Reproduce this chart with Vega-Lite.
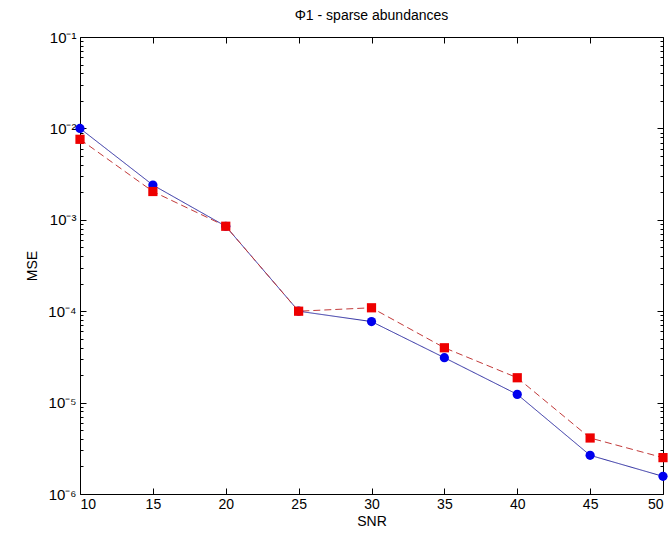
{
  "$schema": "https://vega.github.io/schema/vega-lite/v6.json",
  "width": 583,
  "height": 457,
  "autosize": "none",
  "padding": {"left": 80, "top": 37, "right": 7, "bottom": 47},
  "background": "white",
  "title": {"text": "Φ1 - sparse abundances", "font": "Liberation Sans", "fontSize": 14, "fontWeight": "normal", "color": "#000", "offset": 7},
  "config": {
    "view": {"stroke": "black", "strokeWidth": 1},
    "axis": {"zindex": 1, "domain": false, "ticks": true, "tickColor": "black", "tickWidth": 1, "tickOpacity": 1, "labelColor": "black", "titleColor": "black", "labelFont": "Liberation Sans", "titleFont": "Liberation Sans", "labelFontSize": 14, "titleFontSize": 14, "titleFontWeight": "normal", "grid": false, "offset": -6},
    "legend": {"zindex": 1}
  },
  "data": {"values": [
    {"snr": 10, "mse": 1.0e-2, "series": "BI-ICE"},
    {"snr": 15, "mse": 2.4e-3, "series": "BI-ICE"},
    {"snr": 20, "mse": 8.5e-4, "series": "BI-ICE"},
    {"snr": 25, "mse": 1.0e-4, "series": "BI-ICE"},
    {"snr": 30, "mse": 7.7e-5, "series": "BI-ICE"},
    {"snr": 35, "mse": 3.1e-5, "series": "BI-ICE"},
    {"snr": 40, "mse": 1.23e-5, "series": "BI-ICE"},
    {"snr": 45, "mse": 2.65e-6, "series": "BI-ICE"},
    {"snr": 50, "mse": 1.56e-6, "series": "BI-ICE"},
    {"snr": 10, "mse": 7.6e-3, "series": "BI-ICE-single"},
    {"snr": 15, "mse": 2.04e-3, "series": "BI-ICE-single"},
    {"snr": 20, "mse": 8.5e-4, "series": "BI-ICE-single"},
    {"snr": 25, "mse": 1.0e-4, "series": "BI-ICE-single"},
    {"snr": 30, "mse": 1.09e-4, "series": "BI-ICE-single"},
    {"snr": 35, "mse": 3.98e-5, "series": "BI-ICE-single"},
    {"snr": 40, "mse": 1.87e-5, "series": "BI-ICE-single"},
    {"snr": 45, "mse": 4.1e-6, "series": "BI-ICE-single"},
    {"snr": 50, "mse": 2.5e-6, "series": "BI-ICE-single"}
  ]},
  "layer": [
    {
      "layer": [
        {
          "mark": {"type": "line", "strokeWidth": 1},
          "encoding": {
            "x": {"field": "snr", "type": "quantitative", "scale": {"domain": [10, 50], "nice": false, "zero": false}, "axis": {"orient": "bottom", "title": "SNR", "values": [10, 15, 20, 25, 30, 35, 40, 45, 50], "tickSize": 6, "tickWidth": 1, "tickColor": "black", "labelPadding": 3, "titlePadding": 3}},
            "y": {"field": "mse", "type": "quantitative", "scale": {"type": "log", "domain": [1e-6, 1e-1], "nice": false}, "axis": {"orient": "left", "title": "MSE", "titlePadding": 8,
              "values": [1e-6,2e-6,3e-6,4e-6,5e-6,6e-6,7e-6,8e-6,9e-6,1e-5,2e-5,3e-5,4e-5,5e-5,6e-5,7e-5,8e-5,9e-5,1e-4,2e-4,3e-4,4e-4,5e-4,6e-4,7e-4,8e-4,9e-4,1e-3,2e-3,3e-3,4e-3,5e-3,6e-3,7e-3,8e-3,9e-3,1e-2,2e-2,3e-2,4e-2,5e-2,6e-2,7e-2,8e-2,9e-2,1e-1],
              "labelExpr": "abs(log(datum.value)/LN10 - round(log(datum.value)/LN10)) < 1e-6 ? '10' + ['⁻⁶','⁻⁵','⁻⁴','⁻³','⁻²','⁻¹'][round(log(datum.value)/LN10)+6] : ''",
              "tickSize": 6, "tickWidth": 1, "tickColor": "black",
              "tickDash": {"condition": {"test": "abs(log(datum.value)/LN10 - round(log(datum.value)/LN10)) < 1e-6", "value": [6, 0]}, "value": [0, 3, 3, 0]},
              "labelPadding": 4, "labelFontSize": 15, "labelBaseline": "middle"}},
            "stroke": {"field": "series", "type": "nominal", "scale": {"domain": ["BI-ICE", "BI-ICE-single"], "range": ["#2a2aa0", "#c23a3a"]}, "legend": null},
            "strokeDash": {"field": "series", "type": "nominal", "scale": {"domain": ["BI-ICE", "BI-ICE-single"], "range": [[1, 0], [7, 4]]}, "legend": null}
          }
        },
        {
          "mark": {"type": "point", "filled": true, "opacity": 1, "size": 85},
          "encoding": {
            "x": {"field": "snr", "type": "quantitative"},
            "y": {"field": "mse", "type": "quantitative"},
            "shape": {"field": "series", "type": "nominal", "scale": {"domain": ["BI-ICE", "BI-ICE-single"], "range": ["circle", "square"]}},
            "color": {"field": "series", "type": "nominal", "scale": {"domain": ["BI-ICE", "BI-ICE-single"], "range": ["#0000ee", "#ee0000"]},
              "legend": {"title": null, "orient": "top-left", "offset": 10, "zindex": 1, "strokeColor": "black", "fillColor": "white", "padding": 5, "rowPadding": 5,
                "labelFont": "Liberation Sans", "labelFontSize": 15, "labelColor": "black", "symbolSize": 784, "labelOffset": 4,
                "encode": {"symbols": {"update": {
                  "shape": {"signal": "datum.value === 'BI-ICE' ? 'M-1,0L1,0M0.36,0A0.36,0.36,0,1,1,-0.36,0A0.36,0.36,0,1,1,0.36,0Z' : 'M-1,0L1,0M-0.33,-0.33L0.33,-0.33L0.33,0.33L-0.33,0.33Z'"},
                  "stroke": {"signal": "datum.value === 'BI-ICE' ? '#2a2aa0' : '#c23a3a'"},
                  "strokeDash": {"signal": "datum.value === 'BI-ICE' ? [1,0] : [6,4]"},
                  "strokeWidth": {"value": 1},
                  "opacity": {"value": 1}
                }}}}}
          }
        }
      ]
    },
    {
      "mark": {"type": "point", "opacity": 0},
      "encoding": {
        "x": {"field": "snr", "type": "quantitative", "axis": {"orient": "top", "title": null, "labels": false, "values": [10, 15, 20, 25, 30, 35, 40, 45, 50], "tickSize": 6, "tickWidth": 1, "tickColor": "black"}},
        "y": {"field": "mse", "type": "quantitative", "axis": {"orient": "right", "title": null, "labels": false,
          "values": [1e-6,2e-6,3e-6,4e-6,5e-6,6e-6,7e-6,8e-6,9e-6,1e-5,2e-5,3e-5,4e-5,5e-5,6e-5,7e-5,8e-5,9e-5,1e-4,2e-4,3e-4,4e-4,5e-4,6e-4,7e-4,8e-4,9e-4,1e-3,2e-3,3e-3,4e-3,5e-3,6e-3,7e-3,8e-3,9e-3,1e-2,2e-2,3e-2,4e-2,5e-2,6e-2,7e-2,8e-2,9e-2,1e-1],
          "tickSize": 6, "tickWidth": 1, "tickColor": "black",
          "tickDash": {"condition": {"test": "abs(log(datum.value)/LN10 - round(log(datum.value)/LN10)) < 1e-6", "value": [6, 0]}, "value": [0, 3, 3, 0]}}}
      }
    }
  ],
  "resolve": {"axis": {"x": "independent", "y": "independent"}}
}
